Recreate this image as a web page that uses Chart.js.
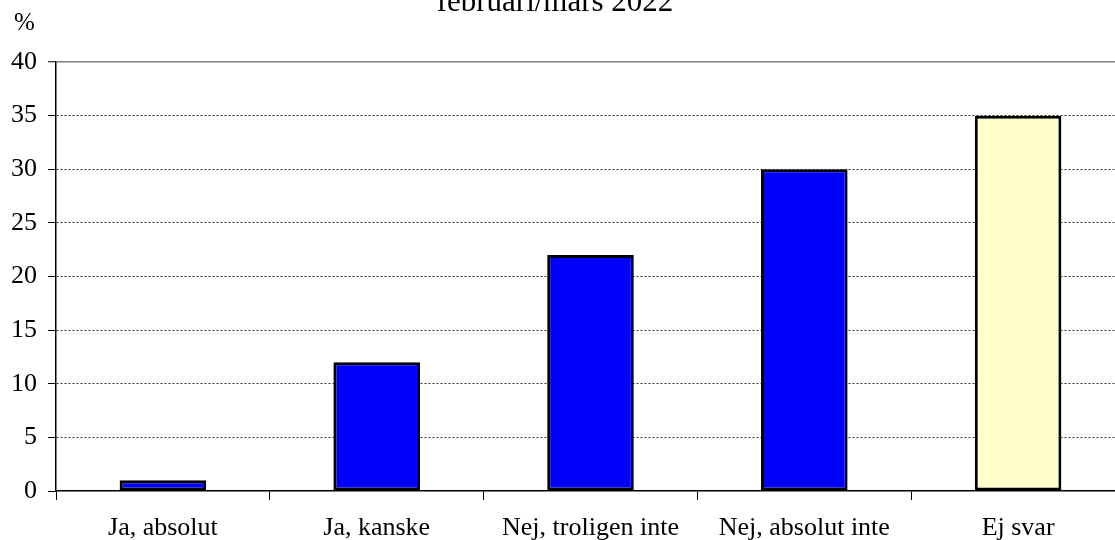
<!DOCTYPE html>
<html>
<head>
<meta charset="utf-8">
<script src="https://cdn.jsdelivr.net/npm/chart.js@4"></script>
<style>
  html, body { margin: 0; padding: 0; background: #fff; overflow: hidden; }
  #wrap { position: absolute; left: 0; top: 0; width: 1140px; height: 540px; }
</style>
</head>
<body>
<div id="wrap"><canvas id="myChart" width="1140" height="540"></canvas></div>
<script>
const categories = ['Ja, absolut', 'Ja, kanske', 'Nej, troligen inte', 'Nej, absolut inte', 'Ej svar'];
const values = [1, 12, 22, 30, 35];
const barColors = ['#0000ff', '#0000ff', '#0000ff', '#0000ff', '#ffffcc'];
const yTicks = [0, 5, 10, 15, 20, 25, 30, 35, 40];
const titleText = 'februari/mars 2022';
const unitLabel = '%';

const serif = 'Liberation Serif';

// title and unit label sit outside the plot, drawn by hand
const extraText = {
    id: 'extraText',
    afterDraw(chart) {
        const ctx = chart.ctx;
        ctx.save();
        ctx.fillStyle = '#000';
        ctx.textBaseline = 'alphabetic';
        ctx.font = '25px "' + serif + '"';
        ctx.textAlign = 'left';
        ctx.fillText(unitLabel, 14, 30);
        ctx.font = '31px "' + serif + '"';
        ctx.textAlign = 'center';
        ctx.fillText(titleText, 555, 11);
        ctx.restore();
    }
};

const ctx = document.getElementById('myChart');
const myChart = new Chart(ctx, {
    type: 'bar',
    data: {
        labels: categories,
        datasets: [{
            data: values,
            backgroundColor: barColors,
            borderColor: '#000',
            borderWidth: 3,
            borderSkipped: false,
            categoryPercentage: 1,
            barPercentage: 0.405
        }]
    },
    options: {
        responsive: false,
        animation: false,
        devicePixelRatio: 1,
        layout: { padding: { top: 62, right: 15, left: 0, bottom: 0 } },
        plugins: {
            legend: { display: false },
            tooltip: { enabled: false },
            title: { display: false }
        },
        scales: {
            x: {
                afterFit(scale) { scale.height = 49; },
                grid: {
                    offset: true,
                    drawOnChartArea: false,
                    drawTicks: true,
                    tickLength: 9,
                    tickColor: '#000',
                    tickWidth: 1
                },
                border: { display: true, color: '#000', width: 1.5 },
                ticks: {
                    color: '#000',
                    font: { family: serif, size: 26 },
                    padding: 13,
                    maxRotation: 0,
                    autoSkip: false
                }
            },
            y: {
                min: 0,
                max: 40,
                afterFit(scale) { scale.width = 56; },
                afterBuildTicks(scale) {
                    scale.ticks = yTicks.map(v => ({ value: v }));
                },
                grid: {
                    color: c => c.tick && c.tick.value === 0 ? 'rgba(0,0,0,0)' :
                        (c.tick && c.tick.value === 40 ? '#808080' : '#333'),
                    lineWidth: c => c.tick && c.tick.value === 40 ? 1.5 : 1,
                    drawTicks: true,
                    tickLength: 8,
                    tickColor: '#000',
                    tickWidth: 1,
                    tickBorderDash: []
                },
                border: {
                    display: true,
                    color: '#000',
                    width: 1.5,
                    dash: c => c.tick && c.tick.value === 40 ? [] : [2, 2]
                },
                ticks: {
                    color: '#000',
                    font: { family: serif, size: 26 },
                    padding: 11
                }
            }
        }
    },
    plugins: [extraText]
});
</script>
</body>
</html>
